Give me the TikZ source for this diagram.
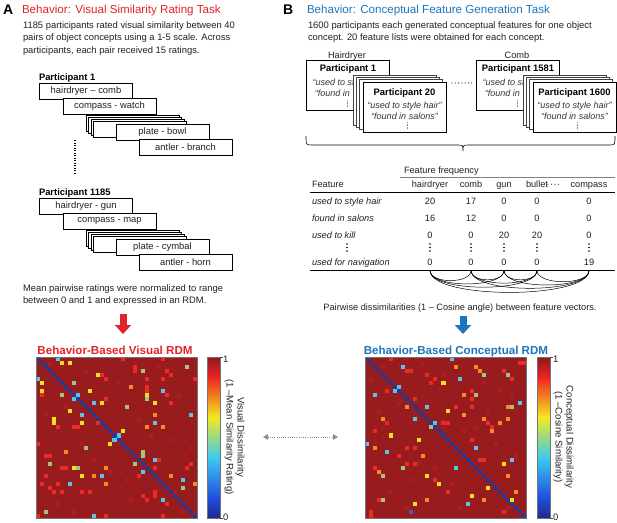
\documentclass[tikz,border=0pt]{standalone}
\usepackage{fontspec}
\setmainfont{Liberation Sans}
\usetikzlibrary{arrows.meta,calc}
\definecolor{redA}{HTML}{E2232A}
\definecolor{blueB}{HTML}{1C75BC}
\definecolor{txt}{HTML}{231F20}
\definecolor{mBG}{HTML}{981B1E}
\definecolor{mR}{HTML}{EA2A26}
\definecolor{mO}{HTML}{F58A22}
\definecolor{mY}{HTML}{F4E11C}
\definecolor{mG}{HTML}{9DC77C}
\definecolor{mC}{HTML}{5BC2EA}
\definecolor{mD}{HTML}{283891}
\definecolor{mF}{HTML}{AC1C20}
\definecolor{mB}{HTML}{3563C9}
\definecolor{jA}{HTML}{1E2A8C}
\definecolor{jB}{HTML}{1F4FE0}
\definecolor{jC}{HTML}{3CCBEF}
\definecolor{jD}{HTML}{F5E81E}
\definecolor{jE}{HTML}{EE2224}
\definecolor{jF}{HTML}{8C1A1C}
\begin{document}
\begin{tikzpicture}[x=1pt,y=-1pt,
  every node/.style={inner sep=0pt, outer sep=0pt, text=txt},
  body/.style={font=\fontsize{9.4}{12}\selectfont, anchor=base west},
  panellbl/.style={font=\fontsize{14}{14}\selectfont\bfseries, anchor=base west, text=black},
  headA/.style={font=\fontsize{11.6}{13}\selectfont, anchor=base west, text=redA},
  headB/.style={font=\fontsize{11.6}{13}\selectfont, anchor=base west, text=blueB},
  plbl/.style={font=\fontsize{9.4}{11}\selectfont\bfseries, anchor=base west, text=black},
  pairbox/.style={draw=black, fill=white, line width=0.5pt, minimum width=93pt, minimum height=16pt, font=\fontsize{9.4}{11}\selectfont},
  stackbox/.style={draw=black, fill=white, line width=0.5pt, minimum width=93pt, minimum height=16pt},
  fbox/.style={draw=black, fill=white, line width=0.5pt, minimum width=83pt, minimum height=50pt},
  fshadow/.style={draw=black!75, fill=white, line width=0.5pt, minimum width=83pt, minimum height=50pt},
  ftitle/.style={font=\fontsize{9.4}{11}\selectfont\bfseries, anchor=base, text=black},
  fquote/.style={font=\fontsize{9}{11}\selectfont\itshape, anchor=base, text=black!80},
  tab/.style={font=\fontsize{9.2}{11}\selectfont, anchor=base},
  tabrow/.style={font=\fontsize{9.2}{11}\selectfont\itshape, anchor=base west},
  rdmtitle/.style={font=\fontsize{11.6}{13}\selectfont\bfseries, anchor=base},
  cbl/.style={font=\fontsize{9.4}{11}\selectfont, anchor=west},
  rotl/.style={font=\fontsize{9.6}{11}\selectfont, rotate=-90, text=txt},
  bigarrowA/.style={redA, line width=7pt, -{Triangle[width=16pt,length=9pt]}},
  bigarrowB/.style={blueB, line width=7pt, -{Triangle[width=16pt,length=9pt]}},
  mframe/.style={draw=black!55, line width=0.4pt, minimum size=161pt, anchor=north west},
  cframe/.style={draw=black!55, line width=0.4pt, minimum width=13pt, minimum height=161pt, anchor=north west}
]
\useasboundingbox (0,0) rectangle (617,522);

% ---------------- Panel A ----------------
\node[panellbl] (lblA) at (3,14) {A};
\node[headA] (headA) at (22,13) {Behavior: Visual Similarity Rating Task};
\node[body] (a1) at (23,28.5) {1185 participants rated visual similarity between 40};
\node[body] (a2) at (23,40.8) {pairs of object concepts using a 1-5 scale. Across};
\node[body] (a3) at (23,53.1) {participants, each pair received 15 ratings.};

\foreach \g/\dy/\lbl/\ta/\tb/\tc/\td in {1/0/Participant 1/hairdryer – comb/compass - watch/plate - bowl/antler - branch,
                                         2/115/Participant 1185/hairdryer - gun/compass - map/plate - cymbal/antler - horn}{
  \node[plbl] (plA\g) at (39,{80.5+\dy}) {\lbl};
  \node[pairbox] (pa\g) at (86,{91.5+\dy}) {\ta};
  \node[pairbox] (pb\g) at (109.5,{106+\dy}) {\tb};
  \node[stackbox] (ps\g a) at (132.5,{123+\dy}) {};
  \node[stackbox] (ps\g b) at (135,{125+\dy}) {};
  \node[stackbox] (ps\g c) at (137.5,{127+\dy}) {};
  \node[stackbox] (ps\g d) at (140,{129+\dy}) {};
  \node[pairbox] (pc\g) at (162.5,{132+\dy}) {\tc};
  \node[pairbox] (pd\g) at (185.5,{147+\dy}) {\td};
}
\coordinate (vdA) at (75,140);
\coordinate (vdB) at (75,173);
\draw[line width=1.3pt, dash pattern=on 1.2pt off 1.3pt] (vdA) -- (vdB);

\node[body] (m1) at (23,291.5) {Mean pairwise ratings were normalized to range};
\node[body] (m2) at (23,303.8) {between 0 and 1 and expressed in an RDM.};

\coordinate (raS) at (123,314);
\coordinate (raE) at (123,334);
\draw[bigarrowA] (raS) -- (raE);

\node[rdmtitle, text=redA] (tA) at (115,354.2) {Behavior-Based Visual RDM};

% left matrix
\fill[mBG] (36,357) rectangle (197,518);
\foreach \c/\r in {3/1,12/3,20/6,35/9,7/12,25/15,33/20,14/25,38/22,5/36,22/30,9/38,30/2,18/28,36/38,2/14,28/19,11/21,34/33,23/35}
  \fill[mF] ({36+\c*4.025},{357+\r*4.025}) rectangle ++(4.025,4.025);
\foreach \c/\r/\k in {5/0/C,6/1/Y,8/1/Y,21/0/R,31/0/R,24/2/R,24/3/R,26/3/G,32/3/R,33/4/R,37/2/G,0/5/C,1/6/Y,1/8/Y,15/4/Y,16/4/R,17/5/R,9/6/G,13/8/Y,6/9/G,10/9/C,9/10/C,27/5/R,31/5/R,23/7/O,27/7/R,27/8/R,27/9/Y,27/10/G,31/8/C,32/9/R,39/5/R,1/9/R,14/11/C,16/11/Y,17/10/R,29/11/Y,33/11/R,22/12/G,8/13/Y,11/14/C,29/14/O,38/14/C,4/15/Y,4/16/Y,5/17/R,11/16/Y,9/17/R,10/17/R,15/16/R,21/18/Y,20/19/C,19/20/C,18/21/Y,27/17/O,29/16/C,31/17/O,0/21/R,12/22/G,7/23/O,26/24/G,26/23/G,29/25/C,30/25/R,24/26/G,2/24/R,3/24/R,3/26/G,6/27/R,7/27/R,9/27/Y,10/27/G,17/27/O,26/28/C,29/27/R,37/27/R,38/26/R,2/29/R,11/29/Y,14/29/O,16/29/C,25/29/R,33/29/O,36/30/C,1/31/R,8/31/C,5/31/R,17/31/O,36/32/G,39/31/O,3/32/R,4/33/R,6/33/R,11/33/R,13/33/R,29/33/R,29/34/R,31/35/C,32/36/R,26/34/R,27/35/R,2/38/G,14/39/C,0/39/R,17/39/R,31/39/R}
  \fill[m\k] ({36+\c*4.025},{357+\r*4.025}) rectangle ++(4.025,4.025);
\foreach \i in {0,...,39}
  \fill[mD] ({36+\i*4.025},{357+\i*4.025}) rectangle ++(4.025,4.025);
\node[mframe] (rdmA) at (36,357) {};

% left colorbar
\shade[bottom color=jA, top color=jB] (207,518) rectangle (220,497.6);
\shade[bottom color=jB, top color=jC] (207,497.9) rectangle (220,457.4);
\shade[bottom color=jC, top color=jD] (207,457.7) rectangle (220,417.1);
\shade[bottom color=jD, top color=jE] (207,417.4) rectangle (220,376.9);
\shade[bottom color=jE, top color=jF] (207,377.2) rectangle (220,357);
\node[cframe] (cbA) at (207,357) {};
\draw[black!70, line width=0.4pt] (220,357.3) -- (222.5,357.3) (220,517.7) -- (222.5,517.7);
\node[cbl] (cbA1) at (223,359) {1};
\node[cbl] (cbA0) at (223,517) {0};
\node[rotl] (rvA1) at (240,437) {Visual Dissimilarity};
\node[rotl] (rvA2) at (229,437) {(1 –Mean Similarity Rating)};

% dotted double arrow
\coordinate (dl) at (263,437);
\coordinate (dr) at (338,437);
\draw[black!45, line width=1pt, dash pattern=on 1pt off 1.2pt, {Triangle[width=5.5pt,length=5pt]}-{Triangle[width=5.5pt,length=5pt]}] (dl) -- (dr);

% ---------------- Panel B ----------------
\node[panellbl] (lblB) at (283,14) {B};
\node[headB] (headB) at (307,13) {Behavior: Conceptual Feature Generation Task};
\node[body] (b1) at (308,28.5) {1600 participants each generated conceptual features for one object};
\node[body] (b2) at (308,40.8) {concept. 20 feature lists were obtained for each concept.};

\foreach \g/\dx/\lbl/\pa/\pb in {H/0/Hairdryer/Participant 1/Participant 20, C/170/Comb/Participant 1581/Participant 1600}{
  \node[tab, text=txt] (cap\g) at ({347+\dx},58.3) {\lbl};
  \node[fbox] (bk\g) at ({348+\dx},85) {};
  \node[ftitle] (bkt\g) at ({348+\dx},71.5) {\pa};
  \begin{scope}
    \clip ({306.5+\dx},60.5) rectangle ({353+\dx},109.5);
    \node[fquote, anchor=base west] (bkq\g a) at ({312.5+\dx},85) {“used to st};
    \node[fquote, anchor=base west] (bkq\g b) at ({314.8+\dx},96.5) {“found in};
  \end{scope}
  \draw[black!45, line width=0.8pt, dash pattern=on 0.8pt off 0.8pt] ({347+\dx},100) -- ({347+\dx},108);
  \node[fshadow] (sh\g a) at ({394.5+\dx},100) {};
  \node[fshadow] (sh\g b) at ({397.5+\dx},102) {};
  \node[fshadow] (sh\g c) at ({400.5+\dx},104.5) {};
  \node[fbox] (fr\g) at ({404.5+\dx},107) {};
  \node[ftitle] (frt\g) at ({404.5+\dx},95.5) {\pb};
  \node[fquote] (frq\g a) at ({404.5+\dx},108.3) {“used to style hair”};
  \node[fquote] (frq\g b) at ({404.5+\dx},119) {“found in salons”};
  \draw[black!45, line width=0.8pt, dash pattern=on 0.8pt off 0.8pt] ({407+\dx},122) -- ({407+\dx},130);
}
\foreach \x in {452,455.3,...,472.5}
  \fill[black!80] (\x,83) circle (0.65);

% brace
\draw[black, line width=0.6pt] (306,136) .. controls (306,145) .. (312,145) -- (457,145)
   .. controls (463,145) .. (463,151) .. controls (463,145) .. (469,145) -- (609,145)
   .. controls (615,145) .. (615,136);

% table
\node[tab, anchor=base west] (ff) at (404,173.5) {Feature frequency};
\draw[black!50, line width=0.4pt] (400,177.5) -- (615,177.5);
\node[tab, anchor=base west] (hf) at (312,187.3) {Feature};
\node[tab] (h1) at (430,187.3) {hairdryer};
\node[tab] (h2) at (471,187.3) {comb};
\node[tab] (h3) at (504,187.3) {gun};
\node[tab] (h4) at (537,187.3) {bullet};
\node[tab] (h5) at (589,187.3) {compass};
\foreach \x in {548,551.5,555,558.5}
  \fill[black!75] (\x,184.3) circle (0.6);
\draw[black, line width=0.9pt] (310,192) -- (615,192);
\node[tabrow] (r1) at (312,204) {used to style hair};
\node[tabrow] (r2) at (312,221.3) {found in salons};
\node[tabrow] (r3) at (312,238.3) {used to kill};
\node[tabrow] (r4) at (312,265.3) {used for navigation};
\foreach \y/\va/\vb/\vc/\vd/\ve in {204/20/17/0/0/0, 221.3/16/12/0/0/0, 238.3/0/0/20/20/0, 265.3/0/0/0/0/19}{
  \node[tab] at (430,\y) {\va};
  \node[tab] at (471,\y) {\vb};
  \node[tab] at (504,\y) {\vc};
  \node[tab] at (537,\y) {\vd};
  \node[tab] at (589,\y) {\ve};
}
\foreach \x in {347,430,471,504,537,589}{
  \fill[black] (\x,244) circle (0.8);
  \fill[black] (\x,247.5) circle (0.8);
  \fill[black] (\x,251) circle (0.8);
}
\draw[black, line width=0.9pt] (310,270) -- (615,270);
\coordinate (k1) at (430,270.5);
\coordinate (k2) at (471,270.5);
\coordinate (k3) at (504,270.5);
\coordinate (k4) at (537,270.5);
\coordinate (k5) at (589,270.5);
\foreach \a/\b/\s in {k1/k2/41,k1/k3/74,k1/k4/107,k1/k5/159,k2/k3/33,k2/k4/66,k2/k5/118,k3/k4/33,k3/k5/85,k4/k5/52}
  \draw[black, line width=0.5pt] (\a) .. controls ($(\a)+(0,{(6+0.1*\s)/0.75})$) and ($(\b)+(0,{(6+0.1*\s)/0.75})$) .. (\b);

\node[tab, text=txt] (pw) at (460,310.5) {Pairwise dissimilarities (1 – Cosine angle) between feature vectors.};

\coordinate (baS) at (463,316);
\coordinate (baE) at (463,334);
\draw[bigarrowB] (baS) -- (baE);

\node[rdmtitle, text=blueB] (tB) at (456,354.2) {Behavior-Based Conceptual RDM};

% right matrix
\fill[mBG] (365,357) rectangle (526,518);
\foreach \c/\r in {4/2,14/1,19/4,33/8,8/11,24/18,32/21,13/26,37/24,6/33,21/31,10/37,29/6,17/27,35/37,3/13,27/17,11/30,36/9,23/37,1/5,30/13}
  \fill[mF] ({365+\c*4.025},{357+\r*4.025}) rectangle ++(4.025,4.025);
\foreach \c/\r/\k in {21/0/C,6/0/R,38/1/R,39/1/R,9/2/C,10/3/R,11/3/R,27/2/O,28/3/O,29/4/G,22/2/O,15/4/R,17/5/R,16/6/R,19/6/Y,23/5/C,34/3/R,35/4/G,36/5/R,8/7/C,7/8/C,2/9/C,5/8/R,26/8/R,27/9/G,24/9/O,26/10/R,12/10/R,10/12/O,15/12/C,20/13/Y,22/12/R,26/12/R,36/12/G,35/12/O,38/11/C,24/14/O,12/15/C,4/15/O,5/16/R,29/15/O,35/15/O,17/16/C,16/17/G,19/16/R,20/16/R,30/16/R,31/17/R,31/18/O,33/16/O,6/19/Y,2/18/R,13/20/Y,0/21/C,2/22/O,10/22/R,12/22/R,27/22/C,26/20/R,5/23/C,8/24/R,14/24/O,28/25/R,29/25/R,34/26/Y,36/25/C,9/27/G,10/26/R,12/26/R,22/27/C,2/27/R,3/28/O,4/29/G,15/29/Y,18/31/Y,17/30/R,30/32/Y,35/29/O,20/33/R,37/33/O,26/34/Y,15/35/O,25/36/C,4/35/G,3/35/R,12/36/Y,29/35/O,36/35/Y,11/38/B,1/38/R,1/39/R,34/38/R}
  \fill[m\k] ({365+\c*4.025},{357+\r*4.025}) rectangle ++(4.025,4.025);
\foreach \i in {0,...,39}
  \fill[mD] ({365+\i*4.025},{357+\i*4.025}) rectangle ++(4.025,4.025);
\node[mframe] (rdmB) at (365,357) {};

% right colorbar
\shade[bottom color=jA, top color=jB] (537,518) rectangle (550,497.6);
\shade[bottom color=jB, top color=jC] (537,497.9) rectangle (550,457.4);
\shade[bottom color=jC, top color=jD] (537,457.7) rectangle (550,417.1);
\shade[bottom color=jD, top color=jE] (537,417.4) rectangle (550,376.9);
\shade[bottom color=jE, top color=jF] (537,377.2) rectangle (550,357);
\node[cframe] (cbB) at (537,357) {};
\draw[black!70, line width=0.4pt] (550,357.3) -- (552.5,357.3) (550,517.7) -- (552.5,517.7);
\node[cbl] (cbB1) at (553,359) {1};
\node[cbl] (cbB0) at (553,517) {0};
\node[rotl] (rvB1) at (569,437) {Conceptual Dissimilarity};
\node[rotl] (rvB2) at (558,437) {(1 –Cosine Similarity)};
\end{tikzpicture}
\end{document}
